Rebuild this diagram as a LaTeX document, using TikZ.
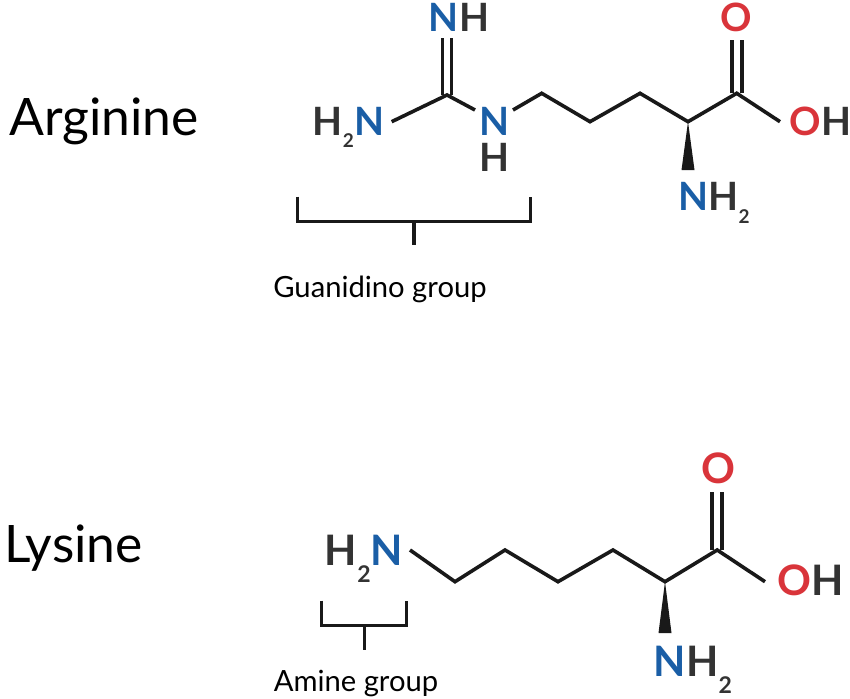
\documentclass[tikz,border=0pt]{standalone}
\usepackage{fontspec}
\setmainfont{Lato}
\usetikzlibrary{positioning}
\definecolor{nblue}{HTML}{1A5EA6}
\definecolor{ored}{HTML}{D9343A}
\definecolor{hgray}{HTML}{333333}
\newcommand{\nit}[1]{\textcolor{nblue}{#1}}
\newcommand{\oxy}[1]{\textcolor{ored}{#1}}
\newcommand{\subtwo}[2]{\raisebox{-#1}{\fontsize{#2}{#2}\selectfont\bfseries 2}}
\tikzset{
  atom/.style={inner sep=0pt, text=hgray, font=\fontsize{39}{39}\selectfont\bfseries},
  atomL/.style={atom, font=\fontsize{42}{42}\selectfont\bfseries},
  bond/.style={line width=3.6pt, color=black!90},
  molname/.style={inner sep=0pt, anchor=base west, font=\fontsize{51.6}{52}\selectfont},
  caption/.style={inner sep=0pt, anchor=base, font=\fontsize{29.2}{29}\selectfont},
  bracket/.style={line width=3.3pt, color=black!90}
}
\begin{document}
\begin{tikzpicture}[x=1pt, y=-1pt]
  \useasboundingbox (0,0) rectangle (850,698);
  % arginine
  \node[molname] (arg) at (9,135) {Arginine};
  \coordinate (c1) at (447,95);
  \coordinate (n1) at (447,38);
  \coordinate (n2) at (391.7,121.7);
  \coordinate (n3a) at (475,110);
  \coordinate (n3b) at (513,110);
  \coordinate (c2) at (541.7,93.3);
  \coordinate (c3) at (590,121.7);
  \coordinate (c4) at (640,93.3);
  \coordinate (ca) at (688,121.7);
  \coordinate (cc) at (736.7,93.3);
  \coordinate (o1) at (736.7,40);
  \coordinate (o2) at (780,121.7);
  \coordinate (wl) at (681.5,170);
  \coordinate (wr) at (694.5,170);
  \draw[bond] ([xshift=-4.6pt]c1) -- ([xshift=-4.6pt]n1);
  \draw[bond] ([xshift=4.6pt]c1) -- ([xshift=4.6pt]n1);
  \draw[bond] (n2) -- (c1) -- (n3a);
  \draw[bond] (n3b) -- (c2) -- (c3) -- (c4) -- (ca) -- (cc) -- (o2);
  \draw[bond] ([xshift=-5pt]cc) -- ([xshift=-5pt]o1);
  \draw[bond] ([xshift=5pt]cc) -- ([xshift=5pt]o1);
  \fill[black!90] (ca) -- (wl) -- (wr) -- cycle;
  \node[atom, anchor=base] (nh) at (459,32) {\nit{N}H};
  \node[atom, anchor=base] (h2n) at (348.5,135) {H\subtwo{13pt}{19}\nit{N}};
  \node[atom, anchor=base] (n3) at (495,135) {\nit{N}};
  \node[atom, below=8pt of n3] (h3) {H};
  \node[atom, anchor=base, text=ored] (o) at (736.5,32) {O};
  \node[atom, anchor=base] (oh) at (820.5,135) {\oxy{O}H};
  \node[atom, anchor=base] (nh2) at (714,210) {\nit{N}H\subtwo{13pt}{19}};
  % guanidino bracket
  \coordinate (g1) at (297.3,196.7);
  \coordinate (g2) at (297.3,221.7);
  \coordinate (g3) at (530.7,221.7);
  \coordinate (g4) at (530.7,196.7);
  \coordinate (g5) at (414,245);
  \draw[bracket] (g1) -- (g2) -- (g3) -- (g4);
  \draw[bracket] (g5 |- g2) -- (g5);
  \node[caption] (gua) at (380,297) {Guanidino group};
  % lysine
  \node[molname] (lys) at (4,562) {Lysine};
  \coordinate (n4) at (410,550);
  \coordinate (d1) at (455,581.7);
  \coordinate (d2) at (505,550);
  \coordinate (d3) at (558,581.7);
  \coordinate (d4) at (613,550);
  \coordinate (da) at (665,581.7);
  \coordinate (dc) at (717.2,550);
  \coordinate (o3) at (717.2,491.7);
  \coordinate (o4) at (765,581.7);
  \coordinate (vl) at (658.5,633);
  \coordinate (vr) at (671.5,633);
  \draw[bond] (n4) -- (d1) -- (d2) -- (d3) -- (d4) -- (da) -- (dc) -- (o4);
  \draw[bond] ([xshift=-5pt]dc) -- ([xshift=-5pt]o3);
  \draw[bond] ([xshift=5pt]dc) -- ([xshift=5pt]o3);
  \fill[black!90] (da) -- (vl) -- (vr) -- cycle;
  \node[atomL, anchor=base] (h2n2) at (364,565) {H\subtwo{17pt}{23}\nit{N}};
  \node[atomL, anchor=base, text=ored] (o5) at (718.5,483) {O};
  \node[atomL, anchor=base] (oh2) at (811,595) {\oxy{O}H};
  \node[atomL, anchor=base] (nh22) at (693,676.7) {\nit{N}H\subtwo{17pt}{23}};
  % amine bracket
  \coordinate (a1) at (321.7,600.7);
  \coordinate (a2) at (321.7,625.7);
  \coordinate (a3) at (406.7,625.7);
  \coordinate (a4) at (406.7,600.7);
  \coordinate (a5) at (364.3,650);
  \draw[bracket] (a1) -- (a2) -- (a3) -- (a4);
  \draw[bracket] (a5 |- a2) -- (a5);
  \node[caption] (ami) at (356,691.7) {Amine group};
\end{tikzpicture}
\end{document}
